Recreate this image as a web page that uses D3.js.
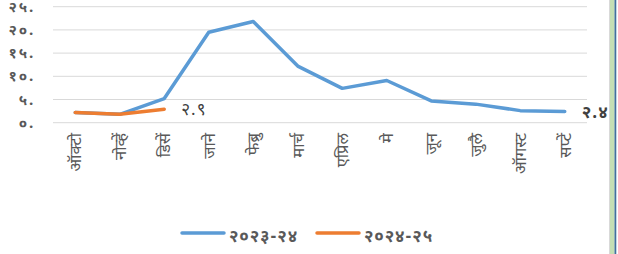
<!DOCTYPE html>
<html lang="mr">
<head>
    <meta charset="UTF-8">
    <title>मासिक आकडे</title>
    <script src="https://d3js.org/d3.v7.min.js"></script>
    <style>
        body { margin: 0; background: #fff; }
        text { font-family: "Nirmala UI", "Mangal", "Noto Sans Devanagari", "Lohit Devanagari", "FreeSans", sans-serif; fill: #595959; }
    </style>
</head>
<body>
    <svg id="chart" width="618" height="254"></svg>

    <script>
        const months = ['ऑक्टो', 'नोव्हें', 'डिसें', 'जाने', 'फेब्रु', 'मार्च', 'एप्रिल', 'मे', 'जून', 'जुलै', 'ऑगस्ट', 'सप्टें'];
        const series2023 = [2.2, 1.8, 5.2, 19.5, 21.8, 12.2, 7.4, 9.1, 4.7, 4.0, 2.6, 2.4];
        const series2024 = [2.2, 1.8, 2.9];
        const yTicks = [0, 5, 10, 15, 20, 25];
        const yTickLabels = ['०.', '५.', '१०.', '१५.', '२०.', '२५.'];
        const seriesNames = ['२०२३-२४', '२०२४-२५'];
        const colors = ['#5B9BD5', '#ED7D31'];

        const devDigits = '०१२३४५६७८९';
        const toDev = s => String(s).replace(/[0-9]/g, c => devDigits[+c]);

        const svg = d3.select('#chart');

        // right edge of the frame
        svg.append('rect').attr('x', 609).attr('y', 0).attr('width', 1).attr('height', 254).attr('fill', '#d9d9d9');
        svg.append('rect').attr('x', 610).attr('y', 0).attr('width', 4.5).attr('height', 254).attr('fill', '#c5dfb4');
        svg.append('rect').attr('x', 614.5).attr('y', 0).attr('width', 1.8).attr('height', 254).attr('fill', '#41719c');

        const x = d3.scalePoint().domain(months).range([53, 587]).padding(0.5);
        const y = d3.scaleLinear().domain([0, 25]).range([122.7, 6.7]);

        // gridlines
        svg.append('g').selectAll('line')
            .data(yTicks)
            .join('line')
            .attr('x1', 53).attr('x2', 587)
            .attr('y1', d => y(d)).attr('y2', d => y(d))
            .attr('stroke', '#d9d9d9').attr('stroke-width', 1);

        // y labels
        svg.append('g').selectAll('text')
            .data(yTicks)
            .join('text')
            .attr('x', 35)
            .attr('y', d => y(d) + 5)
            .attr('text-anchor', 'end')
            .attr('font-size', 15)
            .attr('font-weight', 'bold')
            .attr('letter-spacing', 1.8)
            .text((d, i) => yTickLabels[i]);

        // x labels, rotated
        svg.append('g').selectAll('text')
            .data(months)
            .join('text')
            .attr('transform', d => `translate(${x(d)},133) rotate(-90)`)
            .attr('dy', '0.35em')
            .attr('text-anchor', 'end')
            .attr('font-size', 16.5)
            .text(d => d);

        const line = d3.line()
            .x((d, i) => x(months[i]))
            .y(d => y(d));

        [series2023, series2024].forEach((s, k) => {
            svg.append('path')
                .datum(s)
                .attr('d', line)
                .attr('fill', 'none')
                .attr('stroke', colors[k])
                .attr('stroke-width', 3.5)
                .attr('stroke-linecap', 'round')
                .attr('stroke-linejoin', 'round');
        });

        // end labels
        const lastLabels = [
            { s: series2023, weight: 'bold' },
            { s: series2024, weight: 'normal' }
        ];
        lastLabels.forEach(l => {
            const i = l.s.length - 1;
            svg.append('text')
                .attr('x', x(months[i]) + 17)
                .attr('y', y(l.s[i]))
                .attr('dy', '0.35em')
                .attr('font-size', 17)
                .attr('font-weight', l.weight)
                .attr('letter-spacing', 1)
                .style('fill', '#404040')
                .text(toDev(l.s[i]));
        });

        // legend
        const legend = svg.append('g');
        const legendX = [181, 316];
        seriesNames.forEach((name, k) => {
            legend.append('line')
                .attr('x1', legendX[k] + 1).attr('x2', legendX[k] + 43)
                .attr('y1', 233).attr('y2', 233)
                .attr('stroke', colors[k]).attr('stroke-width', 3.5)
                .attr('stroke-linecap', 'round');
            legend.append('text')
                .attr('x', legendX[k] + 48)
                .attr('y', 236)
                .attr('dy', '0.35em')
                .attr('font-size', 17)
                .attr('font-weight', 'bold')
                .attr('letter-spacing', 0.8)
                .text(name);
        });
    </script>
</body>
</html>
